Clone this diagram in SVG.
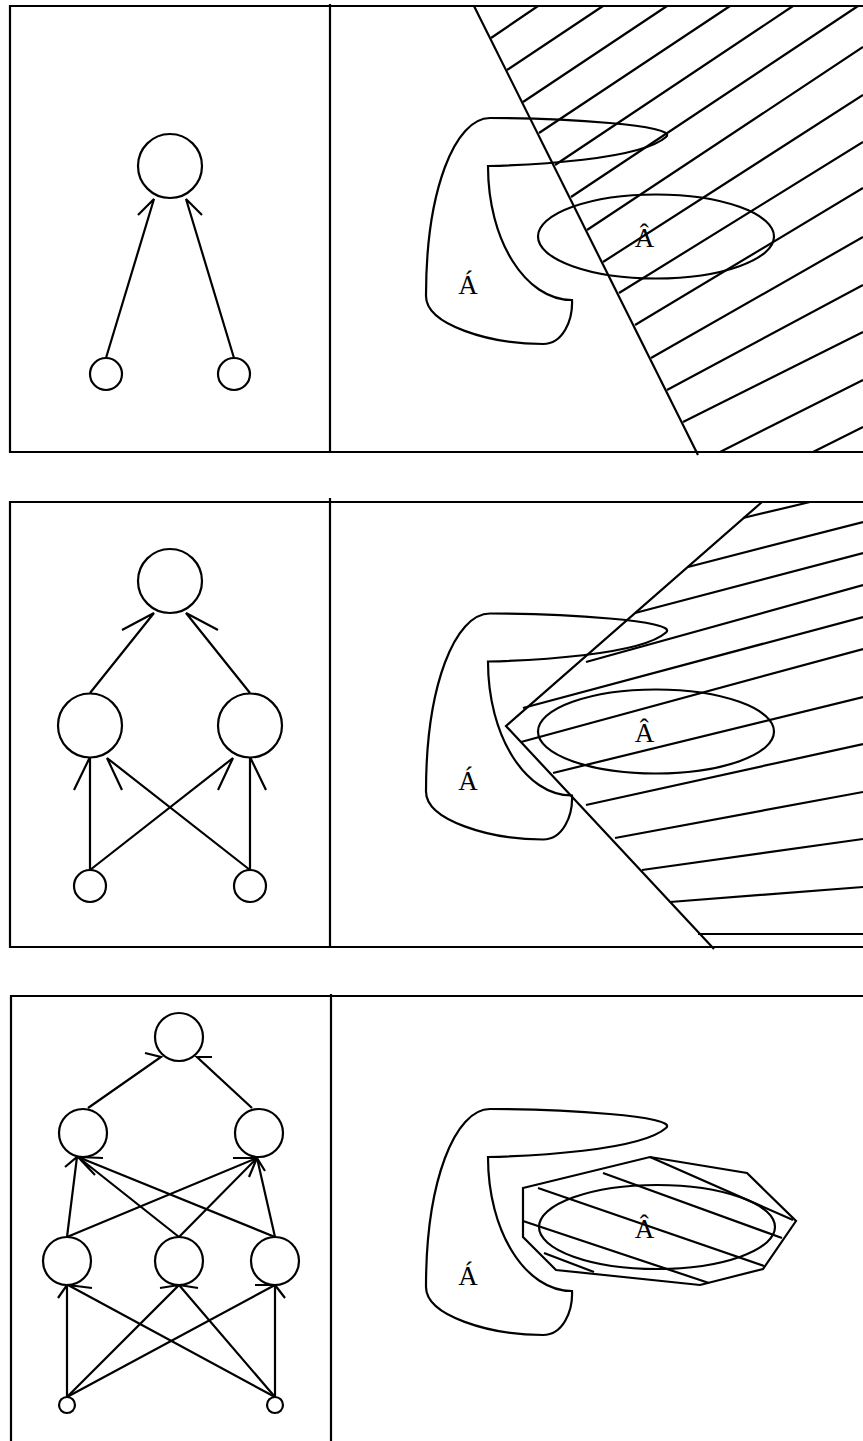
<svg xmlns="http://www.w3.org/2000/svg" width="863" height="1441" viewBox="0 0 863 1441">
<style>
.ln{fill:none;stroke:#000;stroke-width:2.2;stroke-linejoin:miter;stroke-linecap:butt}
.nd{fill:#fff;stroke:#000;stroke-width:2.2}
.tx{font-family:"Liberation Serif","DejaVu Serif",serif;font-size:27px;text-anchor:middle;fill:#000}
</style>
<defs>
<path id="blob" class="ln" d="M488,166 C530,165 640,160 666,137 C680,125 560,118 490,118 C455,118 426,190 426,296 C426,325 490,344 543,344 C563,344 573,320 572,300 C525,300 488,240 488,166 Z"/>
</defs>
<rect width="863" height="1441" fill="#fff"/>

<g id="panel1-frame" class="ln">
<path d="M863,6 H10 V452 H863"/>
<path d="M330,4 V452"/>
</g>
<g id="panel2-frame" class="ln">
<path d="M863,502 H10 V947 H863"/>
<path d="M330,498 V947"/>
</g>
<g id="panel3-frame" class="ln">
<path d="M863,996 H11 V1441"/>
<path d="M331,994 V1441"/>
</g>

<g id="connectors" class="ln">
<path d="M106,358 L154,199 L138,215"/>
<path d="M234,358 L186,199 L202,215"/>

<path d="M90,693 L154,613 L122,630"/>
<path d="M250,693 L186,613 L218,630"/>
<path d="M90,870 L90,757 L74,790"/>
<path d="M250,870 L107,758 L122,790"/>
<path d="M90,870 L233,758 L218,790"/>
<path d="M250,870 L250,757 L266,790"/>

<path d="M88,1108 L161,1057 L145,1053"/>
<path d="M252,1108 L197,1057 L212,1057"/>
<path d="M67,1237 L77,1157 L65,1167"/>
<path d="M179,1237 L78,1157 L95,1175"/>
<path d="M275,1237 L78,1157 L103,1158"/>
<path d="M67,1237 L257,1158 L233,1158"/>
<path d="M179,1237 L257,1158 L249,1177"/>
<path d="M275,1237 L257,1158 L265,1171"/>
<path d="M67,1397 L67,1285 L58,1298"/>
<path d="M275,1397 L68,1285 L92,1288"/>
<path d="M67,1397 L179,1285 L160,1288"/>
<path d="M275,1397 L179,1285 L198,1288"/>
<path d="M275,1397 L275,1285 L285,1298"/>
<path d="M67,1397 L275,1285 L255,1285"/>
</g>

<g id="p1-top"><circle class="nd" cx="170" cy="166" r="32"/></g>
<g id="p1-in1"><circle class="nd" cx="106" cy="374" r="16"/></g>
<g id="p1-in2"><circle class="nd" cx="234" cy="374" r="16"/></g>

<g id="p2-top"><circle class="nd" cx="170" cy="581" r="32"/></g>
<g id="p2-h1"><circle class="nd" cx="90" cy="725.5" r="32"/></g>
<g id="p2-h2"><circle class="nd" cx="250" cy="725.5" r="32"/></g>
<g id="p2-in1"><circle class="nd" cx="90" cy="886" r="16"/></g>
<g id="p2-in2"><circle class="nd" cx="250" cy="886" r="16"/></g>

<g id="p3-top"><circle class="nd" cx="179" cy="1037" r="24"/></g>
<g id="p3-h1"><circle class="nd" cx="83" cy="1133" r="24"/></g>
<g id="p3-h2"><circle class="nd" cx="259" cy="1133" r="24"/></g>
<g id="p3-g1"><circle class="nd" cx="67" cy="1261" r="24"/></g>
<g id="p3-g2"><circle class="nd" cx="179" cy="1261" r="24"/></g>
<g id="p3-g3"><circle class="nd" cx="275" cy="1261" r="24"/></g>
<g id="p3-in1"><circle class="nd" cx="67" cy="1405" r="8"/></g>
<g id="p3-in2"><circle class="nd" cx="275" cy="1405" r="8"/></g>

<g id="panel1-scene">
<g class="ln">
<path d="M474,6 L698,455"/>
<path d="M491,38 L538,6 M507,70 L603,6 M523,102 L667,6 M539,133 L730,6 M555,165 L793,6 M571,197 L858,6 M587,230 L863,47 M603,262 L863,95 M619,293 L863,142 M635,325 L863,188 M651,358 L863,237 M667,390 L863,285 M683,422 L863,332 M720,452 L863,380 M813,452 L863,427"/>
<ellipse cx="656" cy="236.5" rx="118" ry="42"/>
</g>
<use href="#blob"/>
<text class="tx" x="468" y="294">Á</text>
<text class="tx" x="644.5" y="246.5">Â</text>
</g>

<g id="panel2-scene">
<g class="ln">
<path d="M762,502 L506,726 L714,949"/>
<path d="M743,518 L810,502 M688,567 L863,522 M635,613 L863,553 M586,662 L863,585 M523,708 L863,617 M521,742 L863,649 M553,773 L863,697 M586,805 L863,744 M615,838 L863,792 M642,870 L863,839 M670,902 L863,887 M698,934 L863,934"/>
<ellipse cx="656" cy="731.5" rx="118" ry="42"/>
</g>
<use href="#blob" transform="translate(0,495.5)"/>
<text class="tx" x="468" y="789.5">Á</text>
<text class="tx" x="644.5" y="742">Â</text>
</g>

<g id="panel3-scene">
<use href="#blob" transform="translate(0,991)"/>
<g class="ln">
<path d="M523,1188 L650,1157 L747,1173 L796,1221 L763,1269 L700,1285 L556,1270 L523,1237 Z"/>
<path d="M650,1157 L793,1220 M603,1173 L782,1238 M538,1188 L764,1266 M523,1221 L709,1283 M544,1253 L594,1272"/>
<ellipse cx="657" cy="1227" rx="118" ry="42"/>
</g>
<text class="tx" x="468" y="1285">Á</text>
<text class="tx" x="644.5" y="1237.5">Â</text>
</g>
</svg>
